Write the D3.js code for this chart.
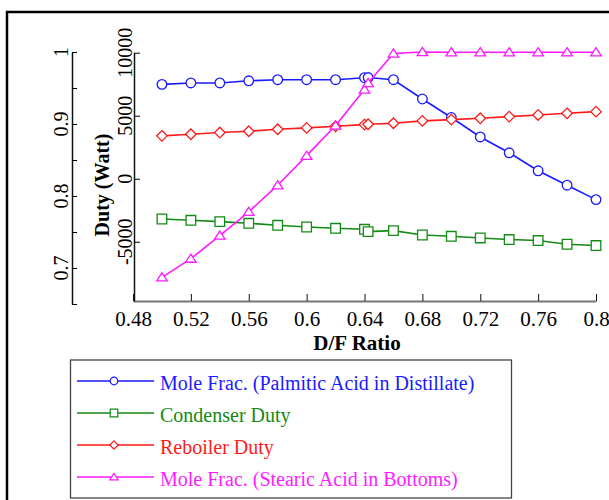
<!DOCTYPE html>
<html>
<head>
<meta charset="utf-8">
<script src="https://cdn.jsdelivr.net/npm/d3@7"></script>
<style>
  body { margin: 0; background: #fff; }
  svg { display: block; font-family: "Liberation Serif", "Times New Roman", serif; }
</style>
</head>
<body>
<svg width="609" height="500"></svg>
<script>
// D/F ratio values (two points sit close together near 0.64)
var dfRatio = [0.50, 0.52, 0.54, 0.56, 0.58, 0.60, 0.62, 0.64, 0.6425, 0.66, 0.68, 0.70, 0.72, 0.74, 0.76, 0.78, 0.80];
var palmitic = [0.955, 0.957, 0.957, 0.960, 0.9615, 0.9615, 0.9615, 0.9643, 0.9645, 0.9615, 0.9347, 0.909, 0.882, 0.860, 0.835, 0.815, 0.795];
var condenser = [-3196, -3299, -3402, -3536, -3695, -3829, -3932, -4011, -4193, -4114, -4462, -4565, -4699, -4826, -4905, -5198, -5301];
var reboiler = [3402, 3528, 3663, 3766, 3924, 4035, 4161, 4296, 4320, 4399, 4589, 4691, 4794, 4929, 5063, 5190, 5324];
var stearic = [0.687, 0.713, 0.745, 0.778, 0.815, 0.856, 0.898, 0.948, 0.957, 0.998, 1.0, 0.9996, 0.9996, 0.9996, 0.9996, 0.9996, 0.9996];

var xTicks = [0.48, 0.52, 0.56, 0.6, 0.64, 0.68, 0.72, 0.76, 0.8];
var xTickLabels = ['0.48', '0.52', '0.56', '0.6', '0.64', '0.68', '0.72', '0.76', '0.8'];
var leftTicks = [0.65, 0.7, 0.75, 0.8, 0.85, 0.9, 0.95, 1];
var leftLabelTicks = [0.7, 0.8, 0.9, 1];
var leftTickLabels = ['0.7', '0.8', '0.9', '1'];
var rightTicks = [-5000, 0, 5000, 10000];
var rightTickLabels = ['-5000', '0', '5000', '10000'];

var seriesNames = ['Mole Frac. (Palmitic Acid in Distillate)', 'Condenser Duty', 'Reboiler Duty', 'Mole Frac. (Stearic Acid in Bottoms)'];
var seriesColors = ['#1a1aff', '#138a13', '#ff1a1a', '#ff1aff'];
var seriesShapes = ['circle', 'square', 'diamond', 'triangle'];

const svg = d3.select('svg');

// outer frame
svg.append('rect')
  .attr('x', 7).attr('y', 12)
  .attr('width', 640).attr('height', 520)
  .attr('fill', 'none')
  .attr('stroke', '#000')
  .attr('stroke-width', 2.5);

var x = d3.scaleLinear().domain([0.48, 0.8]).range([133, 596]);
var yL = d3.scaleLinear().domain([0.65, 1]).range([304, 52]);
var yR = d3.scaleLinear().domain([-9700, 10000]).range([301, 52.7]);

// x axis, ticks pointing up
var xAxis = svg.append('g')
  .attr('transform', 'translate(0,301)')
  .call(d3.axisBottom(x).tickValues(xTicks).tickSizeInner(-7).tickSizeOuter(0).tickPadding(10)
    .tickFormat(function(d, i) { return xTickLabels[i]; }));
xAxis.select('.domain').attr('stroke', '#777').attr('stroke-width', 2);
xAxis.selectAll('.tick line').attr('stroke', '#111');
xAxis.selectAll('text').attr('font-size', 21).attr('font-family', 'Liberation Serif').attr('fill', '#000');

// left axis (mole fraction)
var leftAxis = svg.append('g')
  .attr('transform', 'translate(72,0)')
  .call(d3.axisRight(yL).tickValues(leftTicks).tickSizeInner(5).tickSizeOuter(0).tickFormat(''));
leftAxis.select('.domain').attr('stroke', '#111').attr('stroke-width', 1.5);

svg.append('g').selectAll('text')
  .data(leftLabelTicks)
  .enter().append('text')
  .attr('transform', function(d) { return 'translate(68,' + yL(d) + ') rotate(-90)'; })
  .attr('text-anchor', 'middle')
  .attr('font-size', 20)
  .text(function(d, i) { return leftTickLabels[i]; });

// right axis (duty)
var rightAxis = svg.append('g')
  .attr('transform', 'translate(134,0)')
  .call(d3.axisRight(yR).tickValues(rightTicks).tickSizeInner(6).tickSizeOuter(0).tickFormat(''));
rightAxis.select('.domain').attr('stroke', '#111').attr('stroke-width', 1.5);

svg.append('g').selectAll('text')
  .data(rightTicks)
  .enter().append('text')
  .attr('transform', function(d) { return 'translate(131.5,' + yR(d) + ') rotate(-90)'; })
  .attr('text-anchor', 'middle')
  .attr('font-size', 20)
  .text(function(d, i) { return rightTickLabels[i]; });

svg.append('text')
  .attr('transform', 'translate(109,185) rotate(-90)')
  .attr('text-anchor', 'middle')
  .attr('font-size', 20)
  .attr('font-weight', 'bold')
  .text('Duty (Watt)');

svg.append('text')
  .attr('x', 357).attr('y', 350)
  .attr('text-anchor', 'middle')
  .attr('font-size', 21)
  .attr('font-weight', 'bold')
  .text('D/F Ratio');

// series
var seriesData = [
  dfRatio.map(function(d, i) { return [x(d), yL(palmitic[i])]; }),
  dfRatio.map(function(d, i) { return [x(d), yR(condenser[i])]; }),
  dfRatio.map(function(d, i) { return [x(d), yR(reboiler[i])]; }),
  dfRatio.map(function(d, i) { return [x(d), yL(stearic[i])]; })
];

function markerPath(shape, s) {
  if (shape == 'square') return 'M' + (-s) + ',' + (-s) + 'h' + (2 * s) + 'v' + (2 * s) + 'h' + (-2 * s) + 'Z';
  if (shape == 'diamond') return 'M0,' + (-s * 1.1) + 'L' + (s * 1.1) + ',0L0,' + (s * 1.1) + 'L' + (-s * 1.1) + ',0Z';
  if (shape == 'triangle') return 'M0,' + (-s * 0.95) + 'L' + (s * 1.1) + ',' + (s * 0.75) + 'L' + (-s * 1.1) + ',' + (s * 0.75) + 'Z';
  return 'M' + s + ',0A' + s + ',' + s + ' 0 1,1 ' + (-s) + ',0A' + s + ',' + s + ' 0 1,1 ' + s + ',0Z';
}

var line = d3.line();
seriesData.forEach(function(pts, k) {
  var g = svg.append('g');
  g.append('path')
    .attr('d', line(pts))
    .attr('fill', 'none')
    .attr('stroke', seriesColors[k])
    .attr('stroke-width', 1.6);
  g.selectAll('path.marker')
    .data(pts)
    .enter().append('path')
    .attr('class', 'marker')
    .attr('transform', function(d) { return 'translate(' + d[0] + ',' + d[1] + ')'; })
    .attr('d', markerPath(seriesShapes[k], 4.8))
    .attr('fill', '#fff')
    .attr('stroke', seriesColors[k])
    .attr('stroke-width', 1.3);
});

// legend
var legend = svg.append('g');
legend.append('rect')
  .attr('x', 70.5).attr('y', 360)
  .attr('width', 441).attr('height', 138)
  .attr('fill', '#fff')
  .attr('stroke', '#444')
  .attr('stroke-width', 1.3);

var rows = legend.selectAll('g.row')
  .data(seriesNames)
  .enter().append('g')
  .attr('class', 'row')
  .attr('transform', function(d, i) { return 'translate(0,' + (381 + i * 32) + ')'; });

rows.append('line')
  .attr('x1', 77).attr('x2', 154)
  .attr('y1', 0).attr('y2', 0)
  .attr('stroke', function(d, i) { return seriesColors[i]; })
  .attr('stroke-width', 1.6);
rows.append('path')
  .attr('transform', 'translate(114,0)')
  .attr('d', function(d, i) { return markerPath(seriesShapes[i], 3.8); })
  .attr('fill', '#fff')
  .attr('stroke', function(d, i) { return seriesColors[i]; })
  .attr('stroke-width', 1.2);
rows.append('text')
  .attr('x', 160).attr('y', 9)
  .attr('font-size', 20)
  .attr('fill', function(d, i) { return seriesColors[i]; })
  .text(function(d) { return d; });
</script>
</body>
</html>
